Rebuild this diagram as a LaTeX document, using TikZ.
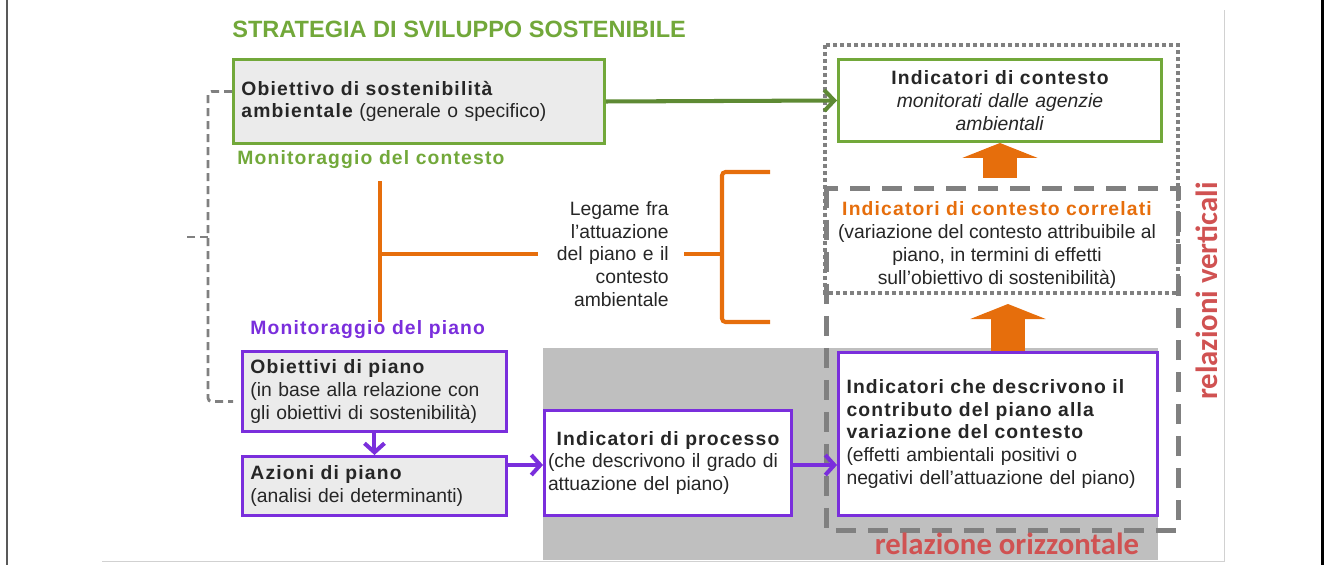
\documentclass[tikz,border=0pt]{standalone}
\usepackage{fontspec}
\setmainfont{Liberation Sans}
\newfontfamily\calfont{Carlito}
\usetikzlibrary{arrows.meta, calc, positioning}

\definecolor{sgreen}{RGB}{114,168,58}
\definecolor{sgreendark}{RGB}{94,138,52}
\definecolor{spurple}{RGB}{122,46,220}
\definecolor{sorange}{RGB}{230,110,12}
\definecolor{sgray}{RGB}{128,128,128}
\definecolor{sbg}{RGB}{191,191,191}
\definecolor{sfill}{RGB}{235,235,235}
\definecolor{stext}{RGB}{38,38,38}
\definecolor{sred}{RGB}{208,82,82}

\newcommand{\hd}[1]{{\bfseries\addfontfeature{LetterSpace=6}#1}}

\tikzset{
    every node/.style={font=\fontsize{11}{13}\selectfont, text=stext},
    gbox/.style={draw=sgreen, line width=1.7pt, inner sep=0.16cm, fill=white},
    pbox/.style={draw=spurple, line width=1.7pt, inner sep=0.16cm, fill=white},
    garrow/.style={draw=sgreendark, line width=2.3pt, -{Straight Barb[length=0.2cm, width=0.42cm]}},
    parrow/.style={draw=spurple, line width=2.3pt, -{Straight Barb[length=0.18cm, width=0.4cm]}},
    oarrow/.style={draw=sorange, line width=0.68cm, -{Triangle[width=1.5cm, length=0.3cm]}},
    oline/.style={draw=sorange, line width=2.3pt, rounded corners=2pt},
    gdash/.style={draw=sgray, line width=1.6pt, dash pattern=on 0.16cm off 0.1cm, rounded corners=2pt},
    dotbox/.style={draw=sgray, line width=0.08cm, dash pattern=on 0.08cm off 0.06cm},
    dashbox/.style={draw=sgray, line width=0.1cm, dash pattern=on 0.4cm off 0.24cm},
    lbl/.style={anchor=west, inner sep=0},
    rel/.style={font=\calfont\bfseries\fontsize{17.5}{20}\selectfont, text=sred}
}

\begin{document}
\begin{tikzpicture}[x=0.02cm, y=-0.02cm]
    \useasboundingbox (0,0) rectangle (1324,565);
    % background and frame
    \fill[sbg] (543,348) rectangle (1158,560);
    \draw[line width=0.04cm, black!65] (7,0) -- (7,565);
    \draw[line width=0.06cm, black] (1322,0) -- (1322,565);
    \draw[line width=0.02cm, black!18] (102,561) -- (1224,561) -- (1224,10);

    % enclosures
    \draw[dotbox] (825,45) rectangle (1178,293);
    \draw[dashbox] (826,188) rectangle (1178,530);

    % titles
    \node[lbl, font=\bfseries\fontsize{13.4}{15}\selectfont, text=sgreen] (title) at (232,29) {STRATEGIA DI SVILUPPO SOSTENIBILE};
    \node[lbl, text=sgreen] (monc) at (237,160) {\hd{Monitoraggio del contesto}};
    \node[lbl, text=spurple] (monp) at (250,330) {\hd{Monitoraggio del piano}};

    % boxes
    \node[gbox, fill=sfill, text width=7.1cm, minimum height=1.68cm, align=left, anchor=north west] (obs) at (232,58)
        {\hd{Obiettivo di sostenibilità}\\\hd{ambientale} (generale o specifico)};
    \node[gbox, text width=6.14cm, minimum height=1.64cm, align=center, anchor=north west] (ctx) at (837,58)
        {\hd{Indicatori di contesto}\\\textit{monitorati dalle agenzie}\\\textit{ambientali}};
    \node[align=center] (corr) at (997,245)
        {\textcolor{sorange}{\hd{Indicatori di contesto correlati}}\\(variazione del contesto attribuibile al\\piano, in termini di effetti\\sull’obiettivo di sostenibilità)};
    \node[align=right, text width=2.3cm, inner xsep=0.3cm, anchor=east] (lg) at (684,254)
        {Legame fra\\l’attuazione\\del piano e il\\contesto\\ambientale};
    \node[pbox, fill=sfill, text width=4.96cm, minimum height=1.6cm, align=left, anchor=north west] (obp) at (241,350)
        {\hd{Obiettivi di piano}\\(in base alla relazione con\\gli obiettivi di sostenibilità)};
    \node[pbox, fill=sfill, text width=4.96cm, minimum height=1.18cm, align=left, anchor=north west] (azp) at (241,455)
        {\hd{Azioni di piano}\\(analisi dei determinanti)};
    \node[pbox, text width=4.8cm, inner xsep=0.07cm, minimum height=2.1cm, align=left, anchor=north west] (proc) at (543,409)
        {\hspace*{\fill}\hd{Indicatori di processo}\hspace*{\fill}\null\\(che descrivono il grado di\\attuazione del piano)};
    \node[pbox, text width=6.06cm, minimum height=3.26cm, align=left, anchor=north west] (contr) at (837,351)
        {\hd{Indicatori che descrivono il}\\\hd{contributo del piano alla}\\\hd{variazione del contesto}\\(effetti ambientali positivi o\\negativi dell’attuazione del piano)};

    \node[rel] (rorz) at (1007,544) {relazione orizzontale};
    \node[rel, rotate=90] (rvert) at (1207,291) {relazioni verticali};

    % connectors
    \draw[garrow] (obs.east) -- (ctx.west);
    \coordinate (ay) at (0,465);
    \draw[parrow] (obp.south) -- (azp.north);
    \draw[parrow] (azp.east |- ay) -- (proc.west |- ay);
    \draw[parrow] (proc.east |- ay) -- (contr.west |- ay);

    \coordinate (a1) at ($(ctx.south)+(0,35)$);
    \draw[oarrow] (a1) -- (ctx.south);
    \coordinate (a2) at ($(contr.north)+(10,0)$);
    \coordinate (a2t) at ($(a2)+(0,-47)$);
    \draw[oarrow] (a2) -- (a2t);

    % orange links
    \coordinate (lbr) at (380,254);
    \coordinate (rbr) at (722,254);
    \draw[oline] (380,181) -- (380,322);
    \draw[oline] (lbr) -- (lg.west);
    \draw[oline] (lg.east) -- (rbr);
    \draw[oline] (770,172) -- (722,172) -- (722,322) -- (770,322);

    % dashed bracket on the left
    \coordinate (lk) at (208,237);
    \draw[gdash] ($(obs.west)+(0,-10)$) -| (lk) |- ($(obp.west)+(-8,10)$);
    \draw[gdash] (lk) -- ++(-22,0);
\end{tikzpicture}
\end{document}
